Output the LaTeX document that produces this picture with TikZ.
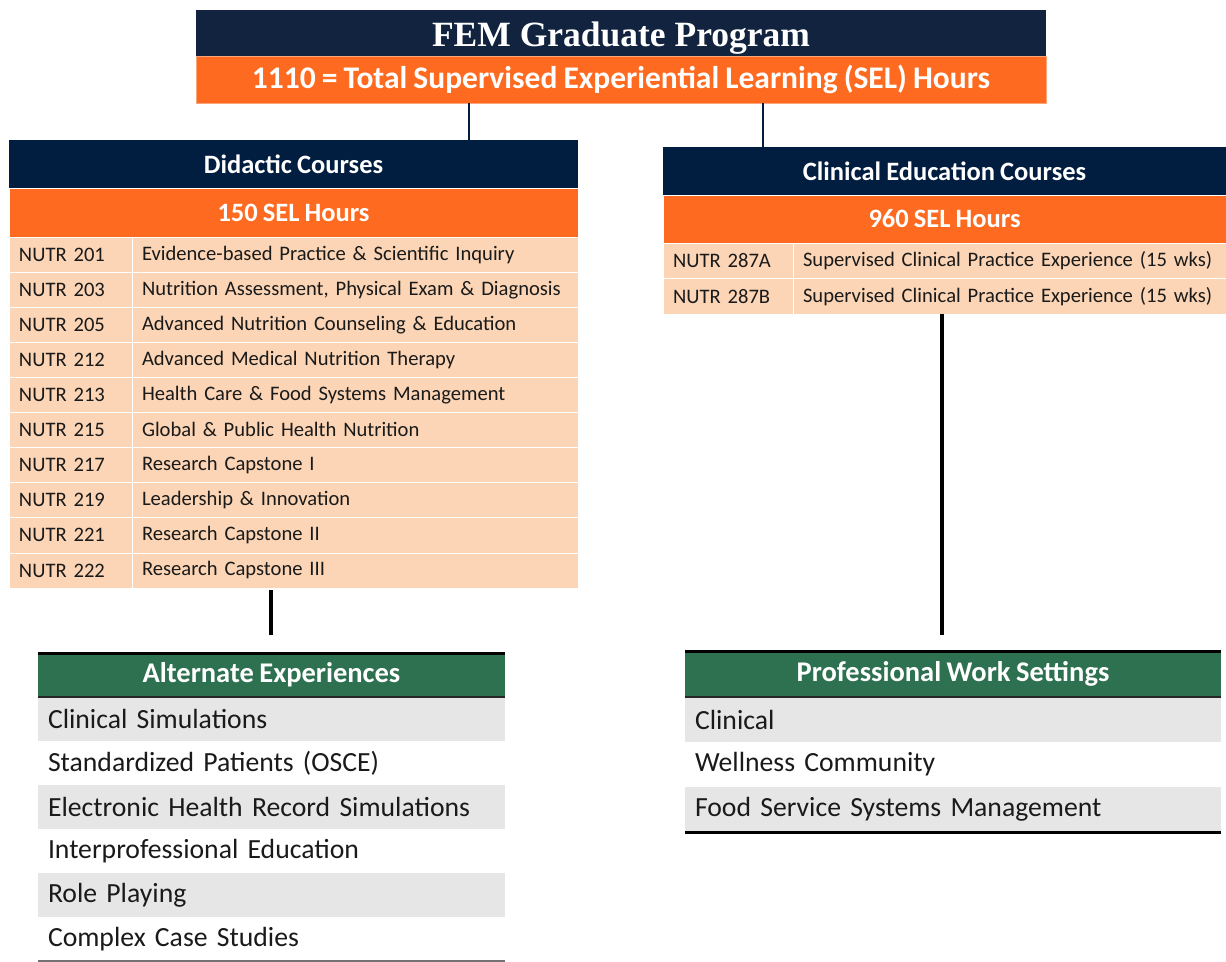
\documentclass[tikz,border=0pt]{standalone}
\usepackage{fontspec}
\setmainfont{Carlito}[WordSpace=0.85]
\newfontfamily\titlefont{Liberation Serif}
\definecolor{navyA}{HTML}{12233F}
\definecolor{navyB}{HTML}{011E41}
\definecolor{orng}{HTML}{FE6A1F}
\definecolor{peach}{HTML}{FBD5B5}
\definecolor{grn}{HTML}{2E7151}
\definecolor{lgray}{HTML}{E7E6E6}
\definecolor{txt}{HTML}{1A1A1A}
\tikzset{
  box/.style={anchor=north west, inner sep=0pt, outer sep=0pt},
  bandnavy/.style={box, fill=navyB, text=white, font=\fontsize{26.5}{30}\selectfont\bfseries},
  bandorng/.style={box, fill=orng, text=white, font=\fontsize{26.5}{30}\selectfont\bfseries, draw=white, line width=0.6pt},
  cellcode/.style={box, fill=peach, draw=white, line width=0.8pt, text=txt, font=\fontsize{20.6}{24}\selectfont, align=left, text width=#1, inner xsep=10pt},
  greenhead/.style={box, fill=grn, text=white, font=\fontsize{28.5}{32}\selectfont\bfseries},
  item/.style={box, text=txt, font=\fontsize{27.7}{31}\selectfont, align=left, inner xsep=10pt},
  navyline/.style={draw=navyB, line width=2.2pt},
  blackline/.style={draw=black, line width=3.2pt},
}
\begin{document}
\begin{tikzpicture}[x=1pt,y=-1pt]
\useasboundingbox[fill=white] (0,0) rectangle (1226,961);

% ---- top header
\node[box, fill=navyA, text=white, minimum width=850pt, minimum height=46pt, font=\titlefont\fontsize{35.5}{38}\selectfont\bfseries] (title) at (196,10) {\raisebox{-13.5pt}[0pt][0pt]{FEM Graduate Program}};
\node[box, fill=orng, text=white, draw=orng!60!white, line width=0.8pt, minimum width=850pt, minimum height=47pt, font=\fontsize{31.5}{35}\selectfont\bfseries] (sel) at (196,56) {1110 = Total Supervised Experiential Learning (SEL) Hours};

% ---- didactic
\node[bandnavy, minimum width=569pt, minimum height=48pt] (dh) at (9,140) {Didactic Courses};
\node[bandorng, minimum width=569pt, minimum height=49pt] (dsel) at (9,188) {150 SEL Hours};
\foreach \c/\d [count=\i from 0] in {
  NUTR 201/{Evidence-based Practice \& Scientific Inquiry},
  NUTR 203/{Nutrition Assessment, Physical Exam \& Diagnosis},
  NUTR 205/{Advanced Nutrition Counseling \& Education},
  NUTR 212/{Advanced Medical Nutrition Therapy},
  NUTR 213/{Health Care \& Food Systems Management},
  NUTR 215/{Global \& Public Health Nutrition},
  NUTR 217/{Research Capstone I},
  NUTR 219/{Leadership \& Innovation},
  NUTR 221/{Research Capstone II},
  NUTR 222/{Research Capstone III}} {
  \node[cellcode=103pt, minimum height=35.1pt] (dc\i) at (9,{237+35.1*\i}) {\raisebox{-3pt}{\c}};
  \node[cellcode=426pt, minimum height=35.1pt] (dd\i) at (132,{237+35.1*\i}) {\raisebox{2pt}{\d}};
}

% ---- clinical
\node[bandnavy, minimum width=563pt, minimum height=48pt] (ch) at (663,147) {Clinical Education Courses};
\node[bandorng, minimum width=563pt, minimum height=48pt] (csel) at (663,195) {960 SEL Hours};
\foreach \c/\d [count=\i from 0] in {
  NUTR 287A/{Supervised Clinical Practice Experience (15 wks)},
  NUTR 287B/{Supervised Clinical Practice Experience (15 wks)}} {
  \node[cellcode=110pt, minimum height=35.5pt] (cc\i) at (663,{243+35.5*\i}) {\raisebox{-3pt}{\c}};
  \node[cellcode=413pt, minimum height=35.5pt] (cd\i) at (793,{243+35.5*\i}) {\raisebox{2pt}{\d}};
}

% ---- connectors from top
\coordinate (k1) at (469,0);
\coordinate (k2) at (763,0);
\draw[navyline] (sel.south -| k1) -- (dh.north -| k1);
\draw[navyline] (sel.south -| k2) -- (ch.north -| k2);

% ---- alternate experiences
\node[greenhead, minimum width=467pt, minimum height=44pt] (ah) at (38,653) {Alternate Experiences};
\foreach \t [count=\i from 0] in {Clinical Simulations, Standardized Patients (OSCE), Electronic Health Record Simulations, Interprofessional Education, Role Playing, Complex Case Studies} {
  \pgfmathsetmacro{\isodd}{mod(\i,2)}
  \ifdim\isodd pt<0.5pt
    \node[item, fill=lgray, minimum width=467pt, minimum height=44pt, text width=447pt] (a\i) at (38,{697+44*\i}) {\t};
  \else
    \node[item, fill=white, minimum width=467pt, minimum height=44pt, text width=447pt] (a\i) at (38,{697+44*\i}) {\t};
  \fi
}
\draw[black, line width=3pt] (ah.north west) -- (ah.north east);
\draw[black!85, line width=1.5pt] (ah.south west) -- (ah.south east);
\draw[black!55, line width=1.2pt] (a5.south west) -- (a5.south east);

% ---- professional work settings
\node[greenhead, minimum width=536pt, minimum height=46pt] (ph) at (685,651) {Professional Work Settings};
\node[item, fill=lgray, minimum width=536pt, minimum height=45pt, text width=516pt] (p0) at (685,697) {Clinical};
\node[item, fill=white, minimum width=536pt, minimum height=45pt, text width=516pt] (p1) at (685,742) {Wellness Community};
\node[item, fill=lgray, minimum width=536pt, minimum height=45pt, text width=516pt] (p2) at (685,787) {Food Service Systems Management};
\draw[black, line width=3pt] (ph.north west) -- (ph.north east);
\draw[black!85, line width=1.5pt] (ph.south west) -- (ph.south east);
\draw[black, line width=3pt] (p2.south west) -- (p2.south east);

% ---- lower connectors
\coordinate (k3) at (271,0);
\coordinate (k4) at (942,0);
\draw[blackline] ([yshift=-2pt]dd9.south -| k3) -- ([yshift=18pt]ah.north -| k3);
\draw[blackline] (cd1.south -| k4) -- ([yshift=16pt]ph.north -| k4);
\end{tikzpicture}
\end{document}
